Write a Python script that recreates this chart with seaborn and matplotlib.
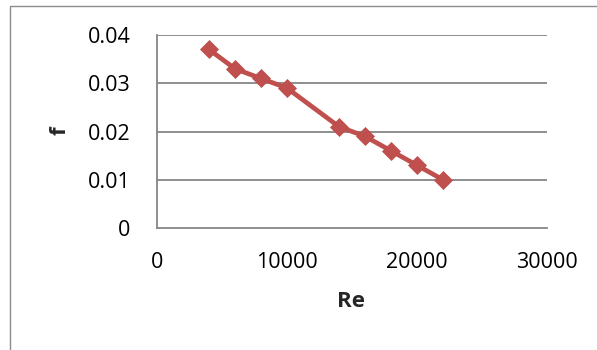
import matplotlib
matplotlib.use("Agg")
import matplotlib.pyplot as plt
import seaborn as sns
import pandas as pd
from matplotlib.patches import Rectangle

re_values = [4000, 6000, 8000, 10000, 14000, 16000, 18000, 20000, 22000]
f_values = [0.037, 0.033, 0.031, 0.029, 0.021, 0.019, 0.016, 0.013, 0.010]
x_ticks = [0, 10000, 20000, 30000]
y_ticks = [0, 0.01, 0.02, 0.03, 0.04]
y_tick_labels = ["0", "0.01", "0.02", "0.03", "0.04"]

sns.set_style("white")
plt.rcParams['font.family'] = ['Open Sans', 'DejaVu Sans']

df = pd.DataFrame({"Re": re_values, "f": f_values})

fig = plt.figure(figsize=(5.97, 3.5), dpi=100)
ax = fig.add_axes([157 / 597, 1 - 228 / 350, 390 / 597, 193 / 350])

grid_col = "#868686"
for y in y_ticks[1:]:
    ax.axhline(y, color=grid_col, lw=1.3, zorder=1)

sns.lineplot(data=df, x="Re", y="f", ax=ax, color="#C0504D", lw=3.4,
             marker="D", markersize=9.5, markeredgecolor="#BE4B48",
             markeredgewidth=0.5, zorder=3)

ax.set_xlim(0, 30000)
ax.set_ylim(0, 0.04)
ax.set_xticks(x_ticks)
ax.set_xticklabels([str(t) for t in x_ticks])
ax.set_yticks(y_ticks)
ax.set_yticklabels(y_tick_labels)
ax.tick_params(axis="both", labelsize=15.5, labelcolor="black", direction="out",
               length=6, width=1.3, color=grid_col)
ax.tick_params(axis="x", pad=11)
ax.tick_params(axis="y", pad=13)

for s in ["top", "right"]:
    ax.spines[s].set_visible(False)
for s in ["left", "bottom"]:
    ax.spines[s].set_color(grid_col)
    ax.spines[s].set_linewidth(1.3)

ax.set_xlabel("Re", fontsize=16, fontweight="bold", va="center")
ax.xaxis.set_label_coords(0.497, -0.383)
ax.set_ylabel("f", fontsize=16, fontweight="bold", va="center")
ax.yaxis.set_label_coords(-0.249, 0.503)

fig.patches.append(Rectangle((10 / 597, -0.1), 1.2, 1 - 6 / 350 + 0.1,
                             transform=fig.transFigure, fill=False,
                             edgecolor="#8c8c8c", lw=1.0))

fig.savefig("out.png", dpi=100)
